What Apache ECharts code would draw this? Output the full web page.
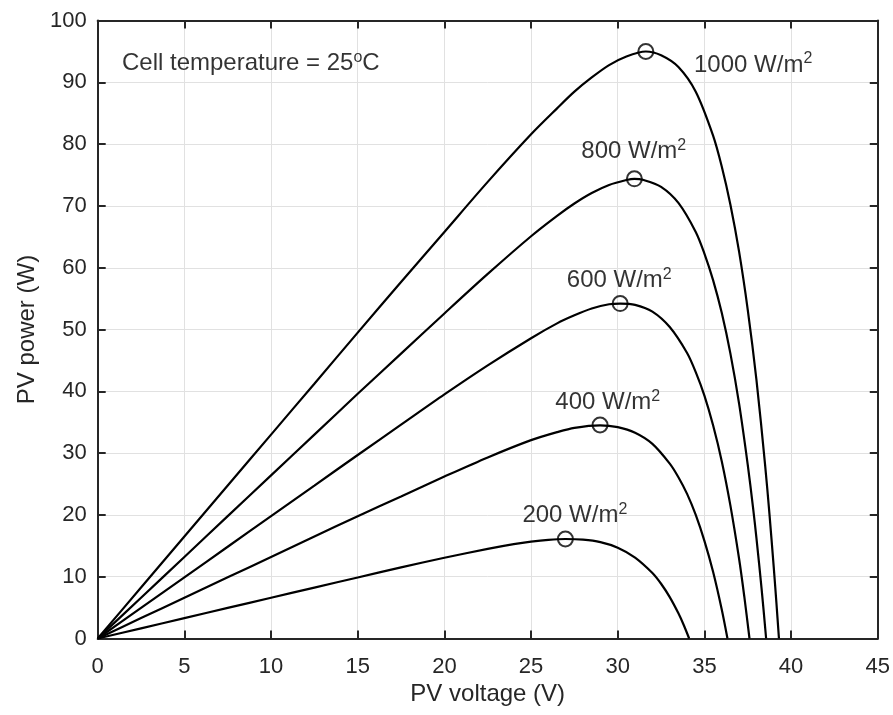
<!DOCTYPE html>
<html>
<head>
<meta charset="utf-8">
<script src="https://cdn.jsdelivr.net/npm/echarts@6/dist/echarts.min.js"></script>
<style>html,body{margin:0;padding:0;background:#fff;}#c{width:893px;height:715px;}</style>
</head>
<body>
<div id="c"></div>
<script>
// Irradiance levels
var irradiance = [200, 400, 600, 800, 1000];

// P-V curves (voltage V, power W)
var v200 = [0, 2.5, 5, 7.5, 10, 12.5, 15, 17.5, 20, 22.5, 24, 25, 26, 26.98, 28, 29, 30, 31, 32, 32.5, 33, 33.5, 33.8, 34.12];
var p200 = [0, 1.65, 3.3, 4.95, 6.6, 8.24, 9.88, 11.5, 13.07, 14.5, 15.27, 15.68, 15.97, 16.1, 16.0, 15.6, 14.7, 13.1, 10.6, 8.86, 6.7, 4.08, 2.23, 0];

var v400 = [0, 2.5, 5, 7.5, 10, 12.5, 15, 17.5, 20, 22.5, 25, 26.5, 27.5, 28.98, 30, 31, 32, 33, 33.5, 34, 34.5, 35, 35.5, 36, 36.33];
var p400 = [0, 3.3, 6.6, 9.9, 13.2, 16.5, 19.8, 23.0, 26.2, 29.3, 32.1, 33.4, 34.1, 34.5, 34.2, 33.3, 31.5, 28.3, 26.1, 23.4, 20.0, 15.8, 10.8, 4.7, 0];

var v600 = [0, 2.5, 5, 7.5, 10, 12.5, 15, 17.5, 20, 22.5, 25, 26.5, 27.5, 28.5, 29.5, 30.14, 31, 32, 33, 34, 34.5, 35, 35.5, 36, 36.5, 37, 37.3, 37.6];
var p600 = [0, 4.95, 9.9, 14.85, 19.8, 24.75, 29.7, 34.6, 39.5, 44.2, 48.6, 51.0, 52.3, 53.4, 54.1, 54.2, 54.0, 52.9, 50.4, 46.2, 43.1, 39.3, 34.5, 28.7, 21.5, 12.9, 6.8, 0];

var v800 = [0, 2.5, 5, 7.5, 10, 12.5, 15, 17.5, 20, 22.5, 25, 26.5, 27.5, 28.5, 29.5, 30.5, 30.96, 31.5, 32.5, 33.5, 34.5, 35, 35.5, 36, 36.5, 37, 37.5, 37.8, 38, 38.3, 38.56];
var p800 = [0, 6.6, 13.2, 19.8, 26.4, 33.0, 39.6, 46.1, 52.6, 59.0, 65.1, 68.4, 70.4, 72.1, 73.4, 74.2, 74.4, 74.2, 73.1, 70.5, 65.8, 62.3, 58.0, 52.7, 46.1, 38.0, 28.1, 21.3, 16.3, 8.0, 0];

var v1000 = [0, 2.5, 5, 7.5, 10, 12.5, 15, 17.5, 20, 22.5, 25, 26.5, 27.5, 28.5, 29.5, 30.5, 31.62, 32.5, 33.5, 34.5, 35.5, 36, 36.5, 37, 37.5, 38, 38.5, 38.75, 39, 39.15, 39.3];
var p1000 = [0, 8.25, 16.5, 24.75, 33.0, 41.24, 49.5, 57.7, 65.8, 73.9, 81.6, 85.8, 88.5, 90.8, 92.8, 94.2, 95.0, 94.4, 92.5, 88.5, 81.4, 76.4, 70.2, 62.6, 53.2, 41.9, 28.1, 20.2, 11.5, 5.9, 0];

// Maximum power points
var mppV = [26.98, 28.98, 30.14, 30.96, 31.62];
var mppP = [16.1, 34.55, 54.2, 74.4, 95.0];

// Label anchors (left-middle of text, data units)
var labelText = ['200 W/m', '400 W/m', '600 W/m', '800 W/m', '1000 W/m'];
var labelV = [24.5, 26.4, 27.06, 27.9, 34.4];
var labelP = [19.9, 38.25, 58.0, 78.8, 92.8];

var noteText = ['Cell temperature = 25', 'o', 'C'];
var noteV = 1.4, noteP = 93.1;

// Axis ticks
var xTicks = [0, 5, 10, 15, 20, 25, 30, 35, 40, 45];
var yTicks = [0, 10, 20, 30, 40, 50, 60, 70, 80, 90, 100];

function zip(a, b) { return a.map(function (x, i) { return [x, b[i]]; }); }

var curves = [[v200, p200], [v400, p400], [v600, p600], [v800, p800], [v1000, p1000]];
var FONT = '"Liberation Sans", Arial, Helvetica, sans-serif';
var AX = '#262626';

var series = curves.map(function (c, i) {
  return {
    type: 'line', name: irradiance[i] + ' W/m2', data: zip(c[0], c[1]),
    smooth: 0.3, showSymbol: false, symbol: 'none',
    lineStyle: { color: '#000', width: 2.2 }, z: 3, animation: false
  };
});

series.push({
  type: 'scatter', data: zip(mppV, mppP), symbol: 'circle', symbolSize: 15,
  itemStyle: { color: 'rgba(0,0,0,0)', borderColor: '#000', borderWidth: 2 }, z: 4, animation: false
});

var rich = {
  n: { fontSize: 24, fontFamily: FONT, color: '#000', lineHeight: 28 },
  s: { fontSize: 16, fontFamily: FONT, color: '#000', lineHeight: 14, verticalAlign: 'top' }
};

series.push({
  type: 'scatter', symbolSize: 0, z: 5, animation: false,
  data: labelV.map(function (v, i) { return { value: [v, labelP[i]], name: labelText[i] }; }),
  label: {
    show: true, position: 'right', distance: 0,
    formatter: function (p) { return '{n|' + p.name + '}{s|2}'; },
    rich: rich
  }
});

series.push({
  type: 'scatter', symbolSize: 0, z: 5, animation: false,
  data: [[noteV, noteP]],
  label: {
    show: true, position: 'right', distance: 0,
    formatter: '{n|' + noteText[0] + '}{s|' + noteText[1] + '}{n|' + noteText[2] + '}',
    rich: rich
  }
});

function baseAxis(isX, pos, showLabels) {
  var t = isX ? xTicks : yTicks;
  return {
    type: 'value', position: pos, min: t[0], max: t[t.length - 1], interval: t[1] - t[0],
    axisLine: { show: true, onZero: false, lineStyle: { color: AX, width: 2 } },
    axisTick: { show: true, inside: true, length: 8, lineStyle: { color: AX, width: 2 } },
    axisLabel: { show: showLabels, color: AX, fontSize: 22, fontFamily: FONT, margin: isX ? 17 : 11 },
    splitLine: { show: showLabels, lineStyle: { color: '#e1e1e1', width: 1 } }
  };
}

var xMain = baseAxis(true, 'bottom', true);
xMain.name = 'PV voltage (V)';
xMain.nameLocation = 'middle';
xMain.nameGap = 40;
xMain.nameTextStyle = { fontSize: 24, fontFamily: FONT, color: AX };
var xTop = baseAxis(true, 'top', false);

var yMain = baseAxis(false, 'left', true);
yMain.name = 'PV power (W)';
yMain.nameLocation = 'middle';
yMain.nameGap = 58;
yMain.nameTextStyle = { fontSize: 24, fontFamily: FONT, color: AX };
var yRight = baseAxis(false, 'right', false);

var chart = echarts.init(document.getElementById('c'), null, { renderer: 'canvas' });
chart.setOption({
  backgroundColor: '#fff',
  animation: false,
  grid: { left: 97.7, right: 15, top: 20.6, bottom: 76.5, containLabel: false },
  xAxis: [xMain, xTop],
  yAxis: [yMain, yRight],
  series: series
});
</script>
</body>
</html>
